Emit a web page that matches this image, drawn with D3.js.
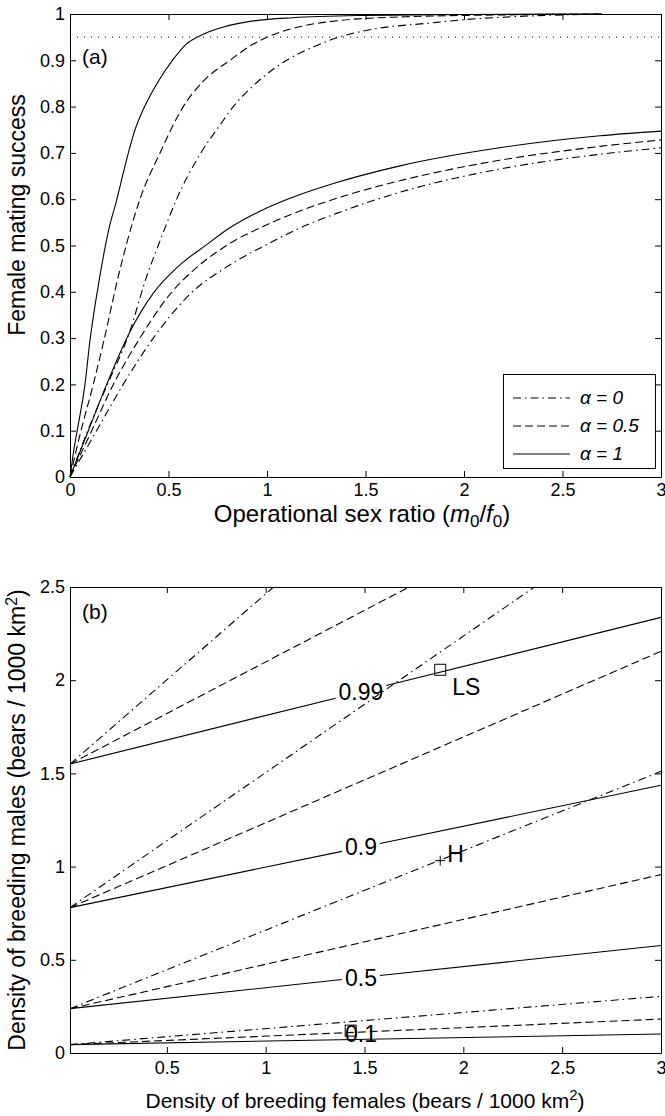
<!DOCTYPE html>
<html>
<head>
<meta charset="utf-8">
<script src="https://cdn.jsdelivr.net/npm/d3@7"></script>
<style>
body { margin: 0; background: #fff; }
text { font-family: "Liberation Sans", Arial, sans-serif; fill: #000; }
</style>
</head>
<body>
<svg id="fig"></svg>
<script>
// (a) female mating success vs operational sex ratio
// upper family (fast rise to 1) and lower family (saturating ~0.75)
const highAlpha1 = [[0,0],[0.02,0.06],[0.045,0.12],[0.076,0.2],[0.1,0.29],[0.15,0.43],[0.2,0.54],[0.235,0.595],[0.29,0.69],[0.33,0.75],[0.37,0.792],[0.41,0.826],[0.45,0.856],[0.52,0.9],[0.59,0.935],[0.68,0.957],[0.78,0.972],[0.9,0.983],[1.13,0.992],[1.5,0.997],[2,0.999],[2.7,1]];
const highAlpha05 = [[0,0],[0.05,0.09],[0.118,0.2],[0.169,0.289],[0.245,0.433],[0.288,0.505],[0.355,0.6],[0.457,0.7],[0.575,0.8],[0.677,0.855],[0.812,0.9],[0.93,0.935],[1.03,0.955],[1.17,0.973],[1.37,0.986],[1.7,0.994],[2.2,0.998],[2.7,1]];
const highAlpha0 = [[0,0],[0.09,0.1],[0.19,0.2],[0.3,0.31],[0.389,0.433],[0.457,0.51],[0.541,0.6],[0.66,0.697],[0.761,0.76],[0.829,0.8],[0.948,0.852],[1.1,0.9],[1.27,0.935],[1.35,0.948],[1.51,0.965],[1.84,0.981],[2.01,0.988],[2.35,0.996],[2.7,1]];
const lowAlpha1 = [[0,0],[0.093,0.1],[0.186,0.2],[0.3,0.31],[0.423,0.397],[0.55,0.455],[0.694,0.502],[0.8,0.535],[0.964,0.574],[1.168,0.61],[1.354,0.636],[1.675,0.672],[2.18,0.711],[2.69,0.737],[3,0.747]];
const lowAlpha05 = [[0,0],[0.11,0.1],[0.22,0.2],[0.355,0.3],[0.508,0.395],[0.65,0.455],[0.795,0.5],[1,0.545],[1.17,0.575],[1.354,0.602],[1.675,0.64],[2.18,0.684],[2.69,0.714],[3,0.728]];
const lowAlpha0 = [[0,0],[0.135,0.1],[0.27,0.2],[0.423,0.3],[0.609,0.395],[0.8,0.455],[0.998,0.502],[1.168,0.538],[1.37,0.572],[1.675,0.615],[2.18,0.665],[2.69,0.697],[3,0.711]];
const targetSuccess = 0.95;
const legendAlphas = [0, 0.5, 1];

// (b) contour lines of mating success over female / male density
const contourLevels = [0.1, 0.5, 0.9, 0.99];
const levelStart = [0.045, 0.238, 0.78, 1.55];          // male density at x = 0.01
const endAlpha1 = [[3, 0.102], [3, 0.577], [3, 1.436], [3, 2.337]];
const endAlpha05 = [[3, 0.182], [3, 0.957], [3, 2.155], [1.726, 2.5]];
const endAlpha0 = [[3, 0.304], [3, 1.511], [2.36, 2.5], [1.04, 2.5]];
const labelAt = 1.482;                                   // female density where levels are labelled
const siteLS = [1.883, 2.056];
const siteH = [1.883, 1.032];
const siteOther = [1.43, 0.12];

const xTicksA = [0, 0.5, 1, 1.5, 2, 2.5, 3];
const yTicksA = [0, 0.1, 0.2, 0.3, 0.4, 0.5, 0.6, 0.7, 0.8, 0.9, 1];
const xTicksB = [0.5, 1, 1.5, 2, 2.5, 3];
const yTicksB = [0, 0.5, 1, 1.5, 2, 2.5];

const W = 665, H = 1116;
const svg = d3.select('#fig').attr('width', W).attr('height', H);
svg.append('rect').attr('width', W).attr('height', H).attr('fill', '#fff');

const dash = { 0: '8,4,1.5,4', 0.5: '8,4', 1: null };

const xa = d3.scaleLinear().domain([0, 3]).range([70, 661]);
const ya = d3.scaleLinear().domain([0, 1]).range([477, 14]);
const xb = d3.scaleLinear().domain([0.01, 3]).range([70, 661]);
const yb = d3.scaleLinear().domain([0, 2.5]).range([1053, 587]);

function frame(xs, ys, xt, yt, xpad) {
    const g = svg.append('g');
    const [y0, y1] = ys.range();
    const [x0, x1] = xs.range();
    const fmt = d3.format('');
    g.append('g').attr('transform', `translate(0,${y0})`)
        .call(d3.axisBottom(xs).tickValues(xt).tickSizeInner(-6).tickSizeOuter(0).tickPadding(xpad).tickFormat(fmt));
    g.append('g').attr('transform', `translate(0,${y1})`)
        .call(d3.axisTop(xs).tickValues(xt).tickSizeInner(-6).tickSizeOuter(0).tickFormat(''));
    g.append('g').attr('transform', `translate(${x0},0)`)
        .call(d3.axisLeft(ys).tickValues(yt).tickSizeInner(-6).tickSizeOuter(0).tickPadding(5).tickFormat(fmt));
    g.append('g').attr('transform', `translate(${x1},0)`)
        .call(d3.axisRight(ys).tickValues(yt).tickSizeInner(-6).tickSizeOuter(0).tickFormat(''));
    g.selectAll('text').attr('font-family', null).attr('font-size', 18);
    g.attr('font-family', null);
    g.selectAll('.domain').attr('stroke', '#000');
    return g;
}

// ---------- panel (a) ----------
frame(xa, ya, xTicksA, yTicksA, 6);

svg.append('line')
    .attr('x1', xa(0)).attr('x2', xa(3))
    .attr('y1', ya(targetSuccess)).attr('y2', ya(targetSuccess))
    .attr('stroke', '#000').attr('stroke-width', 1).attr('stroke-dasharray', '1,6');

const lineA = d3.line().x(d => xa(d[0])).y(d => ya(d[1])).curve(d3.curveMonotoneX);
const seriesA = [
    { pts: highAlpha1, alpha: 1 }, { pts: highAlpha05, alpha: 0.5 }, { pts: highAlpha0, alpha: 0 },
    { pts: lowAlpha1, alpha: 1 }, { pts: lowAlpha05, alpha: 0.5 }, { pts: lowAlpha0, alpha: 0 }
];
svg.append('g').selectAll('path')
    .data(seriesA)
  .enter().append('path')
    .attr('d', d => lineA(d.pts))
    .attr('fill', 'none')
    .attr('stroke', '#000')
    .attr('stroke-width', 1.1)
    .attr('stroke-dasharray', d => dash[d.alpha]);

svg.append('text').attr('x', 82).attr('y', 64).attr('font-size', 21).text('(a)');

const legend = svg.append('g');
legend.append('rect')
    .attr('x', 503.5).attr('y', 374.5).attr('width', 152).attr('height', 94)
    .attr('fill', '#fff').attr('stroke', '#000');
legendAlphas.forEach((a, i) => {
    const yy = 398 + i * 28;
    legend.append('line')
        .attr('x1', 513).attr('x2', 570).attr('y1', yy).attr('y2', yy)
        .attr('stroke', '#000').attr('stroke-dasharray', dash[a]);
    legend.append('text')
        .attr('x', 580).attr('y', yy + 6).attr('font-size', 19).attr('font-style', 'italic')
        .text(`α = ${a}`);
});

const xlabA = svg.append('text').attr('x', 362).attr('y', 522).attr('font-size', 24).attr('text-anchor', 'middle');
xlabA.append('tspan').text('Operational sex ratio (');
xlabA.append('tspan').attr('font-style', 'italic').text('m');
xlabA.append('tspan').attr('font-size', 17).attr('dy', 5).text('0');
xlabA.append('tspan').attr('dy', -5).text('/');
xlabA.append('tspan').attr('font-style', 'italic').text('f');
xlabA.append('tspan').attr('font-size', 17).attr('dy', 5).text('0');
xlabA.append('tspan').attr('dy', -5).text(')');

svg.append('text')
    .attr('transform', 'translate(25,215) rotate(-90)')
    .attr('font-size', 23).attr('text-anchor', 'middle')
    .text('Female mating success');

// ---------- panel (b) ----------
frame(xb, yb, xTicksB, yTicksB, 8);

const x0b = xb.domain()[0];
const linesB = [
    { ends: endAlpha0, alpha: 0 },
    { ends: endAlpha05, alpha: 0.5 },
    { ends: endAlpha1, alpha: 1 }
];
const gB = svg.append('g');

linesB.forEach(s => {
    s.ends.forEach((e, i) => {
        const lev = contourLevels[i];
        const a = [x0b, levelStart[i]];
        const labelled = s.alpha === 1 && lev !== 0.1;
        let segs = [[a, e]];
        if (labelled) {
            const yAt = t => a[1] + (e[1] - a[1]) * (t - a[0]) / (e[0] - a[0]);
            const lab = gB.append('text')
                .attr('x', xb(labelAt)).attr('y', yb(yAt(labelAt)) + 8)
                .attr('font-size', 23).attr('text-anchor', 'middle')
                .text(String(lev));
            const half = lab.node().getComputedTextLength() / 2 + 3;
            const g0 = xb.invert(xb(labelAt) - half), g1 = xb.invert(xb(labelAt) + half);
            segs = [[a, [g0, yAt(g0)]], [[g1, yAt(g1)], e]];
        }
        segs.forEach(sg => {
            gB.append('line')
                .attr('x1', xb(sg[0][0])).attr('y1', yb(sg[0][1]))
                .attr('x2', xb(sg[1][0])).attr('y2', yb(sg[1][1]))
                .attr('stroke', '#000').attr('stroke-width', 1.1)
                .attr('stroke-dasharray', dash[s.alpha]);
        });
    });
});

// lowest level is labelled straight over the lines, no gap
gB.append('text')
    .attr('x', xb(labelAt)).attr('y', yb(0.1) + 8)
    .attr('font-size', 23).attr('text-anchor', 'middle')
    .text(String(contourLevels[0]));

[siteLS, siteOther].forEach(p => {
    gB.append('rect')
        .attr('x', xb(p[0]) - 5.5).attr('y', yb(p[1]) - 5.5)
        .attr('width', 11).attr('height', 11)
        .attr('fill', 'none').attr('stroke', '#000');
});
gB.append('text').attr('x', xb(siteLS[0]) + 12).attr('y', yb(siteLS[1]) + 25).attr('font-size', 23).text('LS');

gB.append('path')
    .attr('d', `M${xb(siteH[0]) - 5},${yb(siteH[1])}h10M${xb(siteH[0])},${yb(siteH[1]) - 5}v10`)
    .attr('stroke', '#000');
gB.append('text').attr('x', xb(siteH[0]) + 7).attr('y', yb(siteH[1]) + 1).attr('font-size', 23).text('H');

svg.append('text').attr('x', 82).attr('y', 619).attr('font-size', 21).text('(b)');

const xlabB = svg.append('text').attr('x', 365).attr('y', 1108).attr('font-size', 21).attr('text-anchor', 'middle');
xlabB.append('tspan').text('Density of breeding females (bears / 1000 km');
xlabB.append('tspan').attr('font-size', 15).attr('dy', -8).text('2');
xlabB.append('tspan').attr('dy', 8).text(')');

const ylabB = svg.append('text')
    .attr('transform', `translate(25,${(587 + 1053) / 2}) rotate(-90)`)
    .attr('font-size', 23).attr('text-anchor', 'middle');
ylabB.append('tspan').text('Density of breeding males (bears / 1000 km');
ylabB.append('tspan').attr('font-size', 16).attr('dy', -8).text('2');
ylabB.append('tspan').attr('dy', 8).text(')');
</script>
</body>
</html>
